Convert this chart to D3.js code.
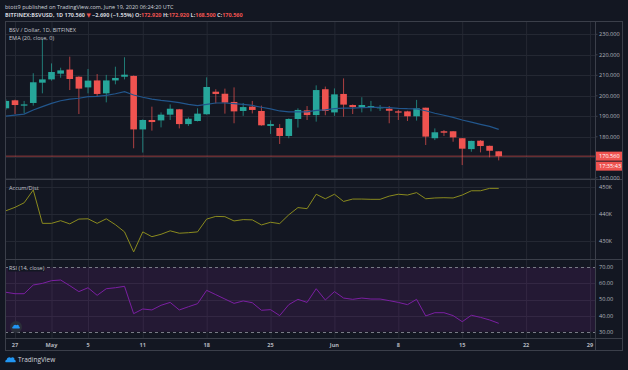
<!DOCTYPE html>
<html>
<head>
<meta charset="utf-8">
<script src="https://cdn.jsdelivr.net/npm/d3@7"></script>
<style>
  body { margin: 0; background: #131722; }
  svg { display: block; font-family: "Open Sans", "DejaVu Sans", sans-serif; }
</style>
</head>
<body>
<svg width="628" height="370"></svg>
<script>
// daily candles, Apr 26 -> Jun 19 2020
var firstDay = "2020-04-26";
var opens = [193.9,197.8,195.2,196.5,206.4,
  208.0,210.8,212.8,209.3,204.1,207.5,201.2,207.5,209.3,209.7,183.6,188.2,188.0,190.8,193.4,186.2,
  187.7,191.0,202.0,201.0,197.0,192.6,194.7,192.6,185.3,184.3,180.4,188.7,192.9,190.6,203.2,
  191.9,200.9,195.5,194.5,194.2,193.9,193.7,192.4,192.4,190.0,194.2,179.3,182.7,182.7,179.3,174.0,178.1,175.6,172.92];
var highs = [198.3,198.1,197.5,211.0,227.6,
  215.8,213.7,219.1,209.5,213.1,210.6,210.2,214.2,218.8,209.9,188.5,194.7,191.9,195.8,193.6,189.5,
  193.9,209.0,203.2,203.5,204.1,196.5,197.5,195.2,188.0,186.2,189.0,193.9,195.0,205.1,204.5,
  203.6,208.5,195.8,199.3,197.5,195.5,195.0,193.1,192.7,198.0,194.2,184.1,183.3,182.8,179.4,178.1,178.4,175.7,172.92];
var lows = [193.1,191.1,191.4,195.2,201.2,
  207.4,208.8,202.8,191.1,201.2,199.6,196.8,205.6,208.0,174.4,172.3,183.0,184.6,188.2,184.1,185.3,
  187.5,190.8,196.3,191.3,186.6,190.2,191.4,185.4,181.4,176.5,179.3,184.5,188.2,187.4,190.5,
  190.2,189.8,191.1,191.9,192.4,192.6,186.6,188.2,187.7,187.9,176.0,178.4,180.4,177.6,166.2,172.7,172.4,170.0,168.5];
var closes = [197.5,195.5,195.8,206.6,208.0,
  211.6,212.4,208.2,203.5,207.4,200.9,207.5,208.7,210.3,183.6,188.2,187.2,190.8,193.7,186.2,188.8,
  191.3,204.3,200.9,196.7,192.4,194.5,193.1,185.6,186.2,180.4,188.7,193.1,190.6,202.8,192.6,
  200.7,195.7,194.5,195.5,195.0,194.5,192.7,191.8,190.0,193.9,180.1,182.2,182.0,179.7,174.2,178.0,175.5,173.2,170.56];
var ema20 = [190.1,190.6,191.1,193.1,194.7,
  196.3,197.6,198.4,198.8,199.6,199.7,200.2,201.0,202.0,200.4,199.3,198.4,197.8,197.3,196.7,195.8,
  195.2,195.8,196.5,196.5,196.2,195.8,195.3,194.4,193.6,192.6,192.2,192.2,192.2,192.9,193.1,
  193.7,194.0,194.0,194.2,194.4,194.4,194.2,193.9,193.7,193.6,192.7,191.5,190.5,189.5,188.2,187.2,186.1,185.1,183.6];
// accumulation / distribution, thousands
var accDist = [441.2,442.5,444.2,449.0,436.5,
  436.5,437.5,436.3,438.1,438.2,436.5,438.2,436.0,433.3,425.8,433.3,431.5,432.4,433.7,432.8,433.0,
  433.3,438.1,439.1,439.0,437.4,437.9,437.8,435.9,436.9,436.4,439.7,442.4,442.0,447.4,445.7,
  447.4,444.7,445.6,445.6,445.5,445.5,446.7,447.4,447.1,448.0,445.7,446.0,446.1,446.0,447.1,448.7,448.7,449.6,449.6];
var rsi14 = [54.5,53.6,53.6,59.0,60.0,
  61.7,62.1,58.6,54.9,57.3,52.6,56.7,57.3,58.2,41.2,44.1,43.5,46.4,48.2,43.5,45.5,
  47.4,55.7,53.0,50.3,47.6,49.1,48.0,43.3,43.7,40.0,46.8,50.1,48.2,56.7,49.7,
  54.9,50.9,50.1,50.9,50.3,50.3,49.3,48.2,46.8,50.1,39.8,41.8,41.8,40.0,36.2,40.2,38.9,37.3,35.2];

var timeTicks = ["2020-04-27","2020-05-01","2020-05-05","2020-05-11","2020-05-18","2020-05-25",
  "2020-06-01","2020-06-08","2020-06-15","2020-06-22","2020-06-29"];
var timeLabels = ["27","May","5","11","18","25","Jun","8","15","22","29"];
var priceTicks = [160,170,180,190,200,210,220,230];
var adTicks = [430,440,450];
var rsiTicks = [30,40,50,60,70];
var lastPrice = 170.56;
var countdown = "17:35:43";

var headerLine1 = "btott9 published on TradingView.com, June 19, 2020 06:24:20 UTC";
var headerLine2 = [
  ["BITFINEX:BSVUSD, 1D  ", "#d1d4dc"], ["170.560 ", "#d1d4dc"], ["\u25BC ", "#ef5350"],
  ["\u22122.690 (\u22121.55%)  ", "#d1d4dc"], ["O:", "#d1d4dc"], ["172.920 ", "#ef5350"],
  ["H:", "#d1d4dc"], ["172.920 ", "#ef5350"], ["L:", "#d1d4dc"], ["168.500 ", "#ef5350"],
  ["C:", "#d1d4dc"], ["170.560", "#ef5350"]];

var parse = d3.utcParse("%Y-%m-%d");
var day0 = parse(firstDay);
var candles = closes.map(function (c, i) {
  return { date: d3.utcDay.offset(day0, i), o: opens[i], h: highs[i], l: lows[i], c: c,
           ema: ema20[i], ad: accDist[i], rsi: rsi14[i] };
});

var up = "#26a69a", down = "#ef5350", gridCol = "#242833", axisTxt = "#b2b5be", sepCol = "#3b3f4a";
var left = 5, right = 595, frameR = 623;
var pane = { price: [21, 179], ad: [179, 259], rsi: [259, 338] };

var svg = d3.select("svg");
svg.append("rect").attr("width", 628).attr("height", 370).attr("fill", "#131722");

var xs = d3.scaleUtc().domain([parse("2020-04-27"), parse("2020-06-29")]).range([15, 590]);
var yp = d3.scaleLinear().domain([160, 230]).range([177.8, 34.3]);
var ya = d3.scaleLinear().domain([430, 450]).range([240.7, 187.3]);
var yr = d3.scaleLinear().domain([30, 70]).range([331.7, 267.3]);

var defs = svg.append("defs");
Object.keys(pane).forEach(function (k) {
  defs.append("clipPath").attr("id", "clip-" + k)
    .append("rect").attr("x", left).attr("y", pane[k][0])
    .attr("width", right - left).attr("height", pane[k][1] - pane[k][0]);
});

// vertical grid
svg.append("g").selectAll("line").data(timeTicks).enter().append("line")
  .attr("x1", function (d) { return xs(parse(d)) + 0.5; })
  .attr("x2", function (d) { return xs(parse(d)) + 0.5; })
  .attr("y1", 21).attr("y2", 338)
  .attr("stroke", gridCol);

// horizontal grid
function hgrid(ticks, scale) {
  svg.append("g").selectAll("line").data(ticks).enter().append("line")
    .attr("x1", left).attr("x2", right)
    .attr("y1", function (d) { return Math.round(scale(d)) + 0.5; })
    .attr("y2", function (d) { return Math.round(scale(d)) + 0.5; })
    .attr("stroke", gridCol);
}
hgrid(priceTicks, yp);
hgrid(adTicks, ya);
hgrid([40, 50, 60], yr);

// RSI band
svg.append("rect").attr("x", left).attr("y", yr(70)).attr("width", right - left)
  .attr("height", yr(30) - yr(70)).attr("fill", "#9c27b0").attr("opacity", 0.13);
svg.append("g").selectAll("line").data([30, 70]).enter().append("line")
  .attr("x1", left).attr("x2", right)
  .attr("y1", function (d) { return Math.round(yr(d)) + 0.5; })
  .attr("y2", function (d) { return Math.round(yr(d)) + 0.5; })
  .attr("stroke", "#787b86").attr("stroke-dasharray", "3,3");

// candles
var pg = svg.append("g").attr("clip-path", "url(#clip-price)");
var cw = 6.6;
var cg = pg.selectAll("g.candle").data(candles).enter().append("g");
cg.append("line")
  .attr("x1", function (d) { return xs(d.date); })
  .attr("x2", function (d) { return xs(d.date); })
  .attr("y1", function (d) { return yp(d.h); })
  .attr("y2", function (d) { return yp(d.l); })
  .attr("stroke", function (d) { return d.c >= d.o ? up : down; })
  .attr("stroke-opacity", 0.7)
  .attr("stroke-width", 1);
cg.append("rect")
  .attr("x", function (d) { return xs(d.date) - cw / 2; })
  .attr("width", cw)
  .attr("y", function (d) { return yp(Math.max(d.o, d.c)); })
  .attr("height", function (d) { return Math.max(1, Math.abs(yp(d.o) - yp(d.c))); })
  .attr("fill", function (d) { return d.c >= d.o ? up : down; });

// EMA
pg.append("path").datum(candles)
  .attr("d", d3.line().x(function (d) { return xs(d.date); }).y(function (d) { return yp(d.ema); }))
  .attr("fill", "none").attr("stroke", "#22568c").attr("stroke-width", 1.2);

// last price line
svg.append("line").attr("x1", left).attr("x2", right)
  .attr("y1", yp(lastPrice)).attr("y2", yp(lastPrice))
  .attr("stroke", down).attr("stroke-opacity", 0.6).attr("stroke-width", 1);

// A/D
svg.append("g").attr("clip-path", "url(#clip-ad)").append("path").datum(candles)
  .attr("d", d3.line().x(function (d) { return xs(d.date); }).y(function (d) { return ya(d.ad); }))
  .attr("fill", "none").attr("stroke", "#8a8a1e").attr("stroke-width", 1);

// RSI
svg.append("g").attr("clip-path", "url(#clip-rsi)").append("path").datum(candles)
  .attr("d", d3.line().x(function (d) { return xs(d.date); }).y(function (d) { return yr(d.rsi); }))
  .attr("fill", "none").attr("stroke", "#7b1fa2").attr("stroke-width", 1);

// separators and frame
svg.append("g").selectAll("line").data([179, 259, 338]).enter().append("line")
  .attr("x1", left).attr("x2", frameR)
  .attr("y1", function (d) { return d + 0.5; }).attr("y2", function (d) { return d + 0.5; })
  .attr("stroke", sepCol);
svg.append("line").attr("x1", right + 0.5).attr("x2", right + 0.5).attr("y1", 21).attr("y2", 351)
  .attr("stroke", sepCol);
svg.append("rect").attr("x", left + 0.5).attr("y", 21.5).attr("width", frameR - left - 1).attr("height", 329)
  .attr("fill", "none").attr("stroke", sepCol);

// right axes
var axisG = svg.append("g").style("font-size", "5.6px").attr("fill", axisTxt);
function rlabels(ticks, scale, fmt) {
  axisG.append("g").selectAll("text").data(ticks).enter().append("text")
    .attr("x", 599).attr("y", function (d) { return scale(d); }).attr("dy", "0.35em")
    .text(fmt);
}
rlabels(priceTicks.filter(function (d) { return d != 170; }), yp, d3.format(".3f"));
rlabels(adTicks, ya, function (d) { return d + "K"; });
rlabels(rsiTicks, yr, d3.format(".2f"));
svg.append("g").selectAll("line").data(priceTicks).enter().append("line")
  .attr("x1", right).attr("x2", right + 2.5)
  .attr("y1", function (d) { return yp(d); }).attr("y2", function (d) { return yp(d); })
  .attr("stroke", sepCol);

// price tag + countdown
var ly = yp(lastPrice);
svg.append("rect").attr("x", 596).attr("y", ly - 4.5).attr("width", 26).attr("height", 9).attr("fill", down);
svg.append("text").attr("x", 599).attr("y", ly).attr("dy", "0.35em").style("font-size", "5.6px")
  .attr("fill", "#ffffff").text(d3.format(".3f")(lastPrice));
svg.append("rect").attr("x", 596).attr("y", ly + 5.5).attr("width", 26).attr("height", 9).attr("fill", down);
svg.append("text").attr("x", 599).attr("y", ly + 10).attr("dy", "0.35em").style("font-size", "5.6px")
  .attr("fill", "#ffffff").text(countdown);

// time axis
svg.append("g").selectAll("text").data(timeTicks).enter().append("text")
  .attr("x", function (d) { return xs(parse(d)); }).attr("y", 345).attr("dy", "0.35em")
  .attr("text-anchor", "middle").style("font-size", "5.6px").style("font-weight", "bold")
  .attr("fill", axisTxt)
  .text(function (d, i) { return timeLabels[i]; });

// header
svg.append("text").attr("x", 5).attr("y", 9).style("font-size", "5.5px").attr("fill", "#d1d4dc")
  .text(headerLine1);
var h2 = svg.append("text").attr("x", 5).attr("y", 17).style("font-size", "5.5px").style("font-weight", "bold");
h2.selectAll("tspan").data(headerLine2).enter().append("tspan")
  .attr("fill", function (d) { return d[1]; }).text(function (d) { return d[0]; });

// pane titles
var titles = [["BSV / Dollar, 1D, BITFINEX", 30], ["EMA (20, close, 0)", 38], ["Accum/Dist", 188], ["RSI (14, close)", 268]];
svg.append("rect").attr("x", 8).attr("y", 264.5).attr("width", 37).attr("height", 7).attr("fill", "#131722");
svg.append("g").selectAll("text").data(titles).enter().append("text")
  .attr("x", 9).attr("y", function (d) { return d[1]; }).attr("dy", "0.35em")
  .style("font-size", "5.6px").attr("fill", "#c3c6ce")
  .text(function (d) { return d[0]; });

// logos
function cloud(g, x, y, s) {
  g.append("path")
    .attr("transform", "translate(" + x + "," + y + ") scale(" + s + ")")
    .attr("d", "M1,8 C0,8 0,5 2,5 C2,2 6,1 7,3 C8,1 12,2 11,5 C13,5 13,8 12,8 Z")
    .attr("fill", "#2196f3");
}
svg.append("circle").attr("cx", 16).attr("cy", 327).attr("r", 6).attr("fill", "#2a2e39");
cloud(svg, 12, 323.5, 0.62);
cloud(svg, 5, 355.5, 0.85);
svg.append("text").attr("x", 18).attr("y", 360).attr("dy", "0.35em").style("font-size", "6.5px")
  .attr("fill", "#d1d4dc").text("TradingView");
</script>
</body>
</html>
